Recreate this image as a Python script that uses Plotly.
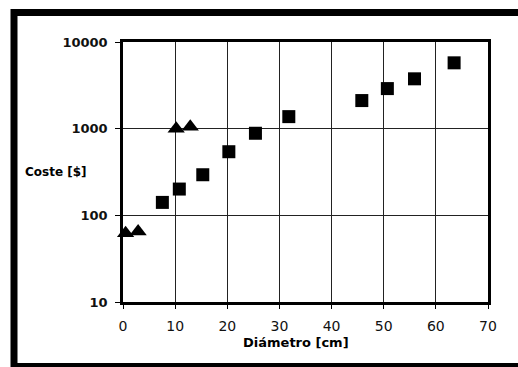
import plotly.graph_objects as go

# Data
tri_x = [0.5, 2.9, 10.2, 12.9]
tri_y = [62, 65, 1000, 1050]
sq_x = [7.55, 10.8, 15.3, 20.3, 25.4, 31.8, 45.8, 50.7, 55.9, 63.5]
sq_y = [141, 201, 294, 542, 885, 1377, 2110, 2900, 3760, 5750]
x_ticks = [0, 10, 20, 30, 40, 50, 60, 70]
y_ticks = [10, 100, 1000, 10000]
y_labels = ["<b>10</b>", "<b>100</b>", "<b>1000</b>", "<b>10000</b>"]

L, R, T, B = 123, 30, 42, 65
W, H = 518, 367
pw, ph = W - L - R, H - T - B

def px(x):
    return (x - L) / pw

def py(y):
    return (H - B - y) / ph

fig = go.Figure()
fig.add_trace(go.Scatter(x=sq_x, y=sq_y, mode="markers",
                         marker=dict(symbol="square", size=13, color="black"),
                         showlegend=False))
fig.add_trace(go.Scatter(x=tri_x, y=tri_y, mode="markers",
                         marker=dict(symbol="triangle-up", size=15, color="black"),
                         showlegend=False, cliponaxis=False))

fig.update_layout(
    width=W, height=H,
    margin=dict(l=L, r=R, t=T, b=B, autoexpand=False),
    paper_bgcolor="white", plot_bgcolor="white",
    font=dict(family="DejaVu Sans", color="black"),
    xaxis=dict(range=[0, 70], tickvals=x_ticks, showgrid=True, gridcolor="#222",
               gridwidth=1, showline=True, linecolor="black", linewidth=2.5, mirror=True,
               ticks="outside", ticklen=4, tickcolor="black", zeroline=False,
               ticklabelstandoff=5,
               tickfont=dict(size=14, color="#111")),
    yaxis=dict(type="log", range=[1, 4], tickvals=y_ticks, ticktext=y_labels,
               showgrid=True, gridcolor="#222", gridwidth=1, showline=True,
               linecolor="black", linewidth=2.5, mirror=True, ticks="outside",
               ticklen=5, tickcolor="black", zeroline=False,
               ticklabelstandoff=5,
               tickfont=dict(size=13, color="#111")),
    annotations=[
        dict(text="<b>Coste [$]</b>", x=px(23), y=py(172), xref="paper",
             yref="paper", xanchor="left", yanchor="middle",
             showarrow=False, font=dict(size=12, color="black")),
        dict(text="<b>Diámetro [cm]</b>", x=px(296), y=py(343), xref="paper",
             yref="paper", xanchor="center", yanchor="middle",
             showarrow=False, font=dict(size=13, color="black")),
    ],
    shapes=[dict(type="rect", xref="paper", yref="paper",
                 x0=px(14), x1=px(530), y0=py(366.5), y1=py(12.5),
                 line=dict(color="black", width=7), layer="above")],
)

fig.write_html("out.html", config={"displayModeBar": False},
               post_script="document.body.style.margin='0';")
